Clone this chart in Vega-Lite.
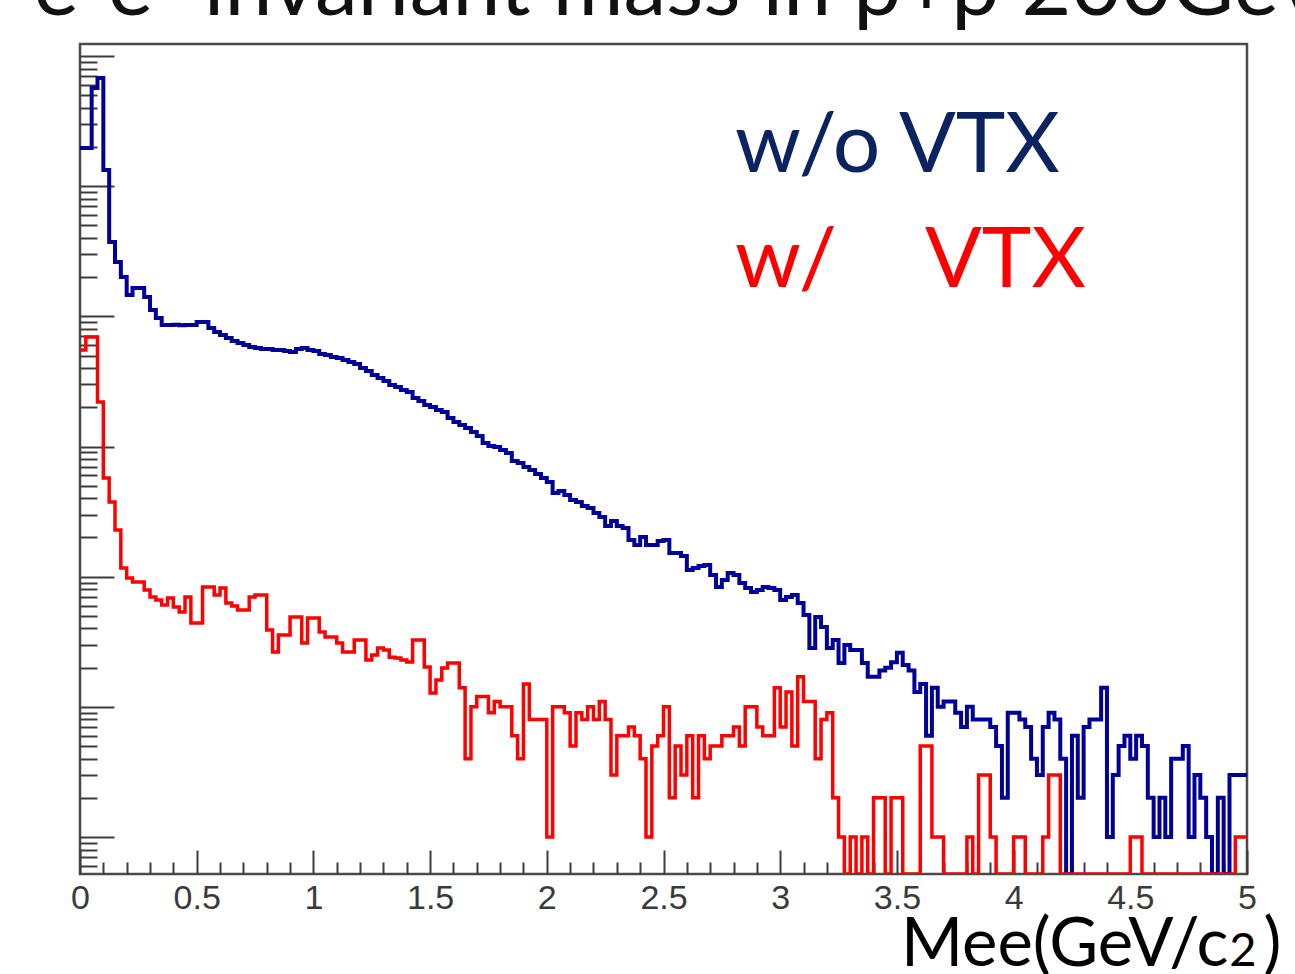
{
  "$schema": "https://vega.github.io/schema/vega-lite/v6.json",
  "width": 1167,
  "height": 830,
  "autosize": {"type": "none"},
  "padding": {"left": 80, "top": 44, "right": 48, "bottom": 100},
  "background": "#ffffff",
  "title": {"text": "e⁺e⁻ invariant mass in p+p 200GeV", "anchor": "start", "font": "Lato", "fontSize": 86, "fontWeight": "normal", "color": "#111111", "baseline": "alphabetic", "offset": -57, "dx": -37},
  "config": {"view": {"stroke": "#4a4a4a", "strokeWidth": 2.5}, "axis": {"grid": false, "domain": false, "tickColor": "#3c3c3c", "tickWidth": 2}},
  "datasets": {
    "blue": [
      {"m":0,"n":196400},{"m":0.025,"n":196400},{"m":0.05,"n":567500},{"m":0.075,"n":677400},{"m":0.1,"n":133100},{"m":0.125,"n":37240},{"m":0.15,"n":26150},{"m":0.175,"n":20050},{"m":0.2,"n":14580},{"m":0.225,"n":16510},
      {"m":0.25,"n":16510},{"m":0.275,"n":14080},{"m":0.3,"n":11180},{"m":0.325,"n":9708},{"m":0.35,"n":8577},{"m":0.375,"n":8577},{"m":0.4,"n":8600},{"m":0.425,"n":8550},{"m":0.45,"n":8580},{"m":0.475,"n":8560},
      {"m":0.5,"n":9045},{"m":0.525,"n":9045},{"m":0.55,"n":8135},{"m":0.575,"n":7578},{"m":0.6,"n":7185},{"m":0.625,"n":6815},{"m":0.65,"n":6463},{"m":0.675,"n":6239},{"m":0.7,"n":6022},{"m":0.725,"n":5812},
      {"m":0.75,"n":5710},{"m":0.775,"n":5611},{"m":0.8,"n":5611},{"m":0.825,"n":5512},{"m":0.85,"n":5512},{"m":0.875,"n":5415},{"m":0.9,"n":5320},{"m":0.925,"n":5611},{"m":0.95,"n":5710},{"m":0.975,"n":5512},
      {"m":1.0,"n":5415},{"m":1.025,"n":5135},{"m":1.05,"n":5045},{"m":1.075,"n":4870},{"m":1.1,"n":4784},{"m":1.125,"n":4618},{"m":1.15,"n":4457},{"m":1.175,"n":4302},{"m":1.2,"n":4009},{"m":1.225,"n":3802},
      {"m":1.25,"n":3542},{"m":1.275,"n":3359},{"m":1.3,"n":3186},{"m":1.325,"n":2968},{"m":1.35,"n":2864},{"m":1.375,"n":2716},{"m":1.4,"n":2622},{"m":1.425,"n":2358},{"m":1.45,"n":2236},{"m":1.475,"n":2084},
      {"m":1.5,"n":2011},{"m":1.525,"n":1907},{"m":1.55,"n":1841},{"m":1.575,"n":1656},{"m":1.6,"n":1543},{"m":1.625,"n":1463},{"m":1.65,"n":1387},{"m":1.675,"n":1292},{"m":1.7,"n":1204},{"m":1.725,"n":1064},
      {"m":1.75,"n":1009},{"m":1.775,"n":991},{"m":1.8,"n":940},{"m":1.825,"n":891},{"m":1.85,"n":773.5},{"m":1.875,"n":746.7},{"m":1.9,"n":695.9},{"m":1.925,"n":659.8},{"m":1.95,"n":614.8},{"m":1.975,"n":572.7},
      {"m":2.0,"n":533.6},{"m":2.025,"n":439.3},{"m":2.05,"n":455.1},{"m":2.075,"n":424},{"m":2.1,"n":388},{"m":2.125,"n":374.6},{"m":2.15,"n":349},{"m":2.175,"n":337},{"m":2.2,"n":308.4},{"m":2.225,"n":287.3},
      {"m":2.25,"n":245.1},{"m":2.275,"n":267.7},{"m":2.3,"n":245.1},{"m":2.325,"n":236.5},{"m":2.35,"n":191.2},{"m":2.375,"n":175.1},{"m":2.4,"n":201.7},{"m":2.425,"n":175.1},{"m":2.45,"n":175.1},{"m":2.475,"n":187.9},
      {"m":2.5,"n":191.2},{"m":2.525,"n":152},{"m":2.55,"n":152},{"m":2.575,"n":144.1},{"m":2.6,"n":112.5},{"m":2.625,"n":116.5},{"m":2.65,"n":120.8},{"m":2.675,"n":122.9},{"m":2.7,"n":103},{"m":2.725,"n":83.3},
      {"m":2.75,"n":94.3},{"m":2.775,"n":106.7},{"m":2.8,"n":103},{"m":2.825,"n":89.4},{"m":2.85,"n":81.8},{"m":2.875,"n":76.2},{"m":2.9,"n":79},{"m":2.925,"n":83.3},{"m":2.95,"n":81.8},{"m":2.975,"n":79},
      {"m":3.0,"n":66.2},{"m":3.025,"n":69.8},{"m":3.05,"n":72.3},{"m":3.075,"n":62.8},{"m":3.1,"n":50.8},{"m":3.125,"n":28.3},{"m":3.15,"n":49},{"m":3.175,"n":41.1},{"m":3.2,"n":28.3},{"m":3.225,"n":32.6},
      {"m":3.25,"n":21.7},{"m":3.275,"n":29.9},{"m":3.3,"n":27.3},{"m":3.325,"n":27.3},{"m":3.35,"n":21.7},{"m":3.375,"n":17},{"m":3.4,"n":17},{"m":3.425,"n":19},{"m":3.45,"n":20},{"m":3.475,"n":22},
      {"m":3.5,"n":26},{"m":3.525,"n":21},{"m":3.55,"n":19},{"m":3.575,"n":13},{"m":3.6,"n":15},{"m":3.625,"n":6},{"m":3.65,"n":14},{"m":3.675,"n":10},{"m":3.7,"n":11},{"m":3.725,"n":11},
      {"m":3.75,"n":9},{"m":3.775,"n":7},{"m":3.8,"n":10},{"m":3.825,"n":8},{"m":3.85,"n":8},{"m":3.875,"n":8},{"m":3.9,"n":7},{"m":3.925,"n":5},{"m":3.95,"n":2},{"m":3.975,"n":9},
      {"m":4.0,"n":9},{"m":4.025,"n":8},{"m":4.05,"n":7},{"m":4.075,"n":4},{"m":4.1,"n":3},{"m":4.125,"n":7},{"m":4.15,"n":9},{"m":4.175,"n":8},{"m":4.2,"n":4},{"m":4.225,"n":0},
      {"m":4.25,"n":6},{"m":4.275,"n":2},{"m":4.3,"n":7},{"m":4.325,"n":8},{"m":4.35,"n":8},{"m":4.375,"n":14},{"m":4.4,"n":1},{"m":4.425,"n":3},{"m":4.45,"n":5},{"m":4.475,"n":6},
      {"m":4.5,"n":4},{"m":4.525,"n":6},{"m":4.55,"n":5},{"m":4.575,"n":2},{"m":4.6,"n":1},{"m":4.625,"n":2},{"m":4.65,"n":1},{"m":4.675,"n":4},{"m":4.7,"n":4},{"m":4.725,"n":5},
      {"m":4.75,"n":1},{"m":4.775,"n":3},{"m":4.8,"n":2},{"m":4.825,"n":1},{"m":4.85,"n":0},{"m":4.875,"n":2},{"m":4.9,"n":0},{"m":4.925,"n":3},{"m":4.95,"n":3},{"m":4.975,"n":3},
      {"m":5.0,"n":3}
    ],
    "red": [
      {"m":0,"n":5512},{"m":0.025,"n":6938},{"m":0.05,"n":6938},{"m":0.075,"n":2197},{"m":0.1,"n":572.7},{"m":0.125,"n":374.6},{"m":0.15,"n":228.3},{"m":0.175,"n":116.5},{"m":0.2,"n":97.6},{"m":0.225,"n":91},
      {"m":0.25,"n":91},{"m":0.275,"n":79},{"m":0.3,"n":69.8},{"m":0.325,"n":66.2},{"m":0.35,"n":60.6},{"m":0.375,"n":68.6},{"m":0.4,"n":58.5},{"m":0.425,"n":53.5},{"m":0.45,"n":69.8},{"m":0.475,"n":44.1},
      {"m":0.5,"n":44.1},{"m":0.525,"n":83.3},{"m":0.55,"n":83.3},{"m":0.575,"n":72.3},{"m":0.6,"n":81.8},{"m":0.625,"n":62.8},{"m":0.65,"n":59.5},{"m":0.675,"n":55.4},{"m":0.7,"n":55.4},{"m":0.725,"n":69.8},
      {"m":0.75,"n":72.3},{"m":0.775,"n":72.3},{"m":0.8,"n":38.9},{"m":0.825,"n":26.4},{"m":0.85,"n":35.6},{"m":0.875,"n":35.6},{"m":0.9,"n":49},{"m":0.925,"n":49},{"m":0.95,"n":30.9},{"m":0.975,"n":48.1},
      {"m":1.0,"n":48.1},{"m":1.025,"n":37.6},{"m":1.05,"n":34.4},{"m":1.075,"n":34.4},{"m":1.1,"n":30.9},{"m":1.125,"n":26.4},{"m":1.15,"n":26.4},{"m":1.175,"n":32.6},{"m":1.2,"n":32.6},{"m":1.225,"n":22.9},
      {"m":1.25,"n":25},{"m":1.275,"n":28.3},{"m":1.3,"n":27.3},{"m":1.325,"n":24.1},{"m":1.35,"n":23.7},{"m":1.375,"n":22.9},{"m":1.4,"n":22.1},{"m":1.425,"n":32.6},{"m":1.45,"n":32.6},{"m":1.475,"n":20.2},
      {"m":1.5,"n":12.8},{"m":1.525,"n":16.1},{"m":1.55,"n":19.9},{"m":1.575,"n":21.7},{"m":1.6,"n":21.7},{"m":1.625,"n":14},{"m":1.65,"n":4},{"m":1.675,"n":10},{"m":1.7,"n":12},{"m":1.725,"n":12},
      {"m":1.75,"n":9},{"m":1.775,"n":11},{"m":1.8,"n":10},{"m":1.825,"n":10},{"m":1.85,"n":6},{"m":1.875,"n":4},{"m":1.9,"n":15},{"m":1.925,"n":8},{"m":1.95,"n":8},{"m":1.975,"n":8},
      {"m":2.0,"n":1},{"m":2.025,"n":10},{"m":2.05,"n":10},{"m":2.075,"n":9},{"m":2.1,"n":5},{"m":2.125,"n":9},{"m":2.15,"n":8},{"m":2.175,"n":10},{"m":2.2,"n":8},{"m":2.225,"n":11},
      {"m":2.25,"n":8},{"m":2.275,"n":3},{"m":2.3,"n":6},{"m":2.325,"n":6},{"m":2.35,"n":7},{"m":2.375,"n":6},{"m":2.4,"n":4},{"m":2.425,"n":1},{"m":2.45,"n":5},{"m":2.475,"n":6},
      {"m":2.5,"n":10},{"m":2.525,"n":2},{"m":2.55,"n":5},{"m":2.575,"n":3},{"m":2.6,"n":6},{"m":2.625,"n":2},{"m":2.65,"n":6},{"m":2.675,"n":4},{"m":2.7,"n":5},{"m":2.725,"n":5},
      {"m":2.75,"n":6},{"m":2.775,"n":6},{"m":2.8,"n":7},{"m":2.825,"n":5},{"m":2.85,"n":10},{"m":2.875,"n":10},{"m":2.9,"n":7},{"m":2.925,"n":6},{"m":2.95,"n":6},{"m":2.975,"n":14},
      {"m":3.0,"n":7},{"m":3.025,"n":13},{"m":3.05,"n":5},{"m":3.075,"n":17},{"m":3.1,"n":11},{"m":3.125,"n":11},{"m":3.15,"n":4},{"m":3.175,"n":8},{"m":3.2,"n":9},{"m":3.225,"n":2},
      {"m":3.25,"n":1},{"m":3.275,"n":0},{"m":3.3,"n":1},{"m":3.325,"n":0},{"m":3.35,"n":1},{"m":3.375,"n":0},{"m":3.4,"n":2},{"m":3.425,"n":2},{"m":3.45,"n":0},{"m":3.475,"n":2},
      {"m":3.5,"n":2},{"m":3.525,"n":0},{"m":3.55,"n":0},{"m":3.575,"n":0},{"m":3.6,"n":5},{"m":3.625,"n":5},{"m":3.65,"n":1},{"m":3.675,"n":1},{"m":3.7,"n":0},{"m":3.725,"n":0},
      {"m":3.75,"n":0},{"m":3.775,"n":0},{"m":3.8,"n":1},{"m":3.825,"n":0},{"m":3.85,"n":3},{"m":3.875,"n":3},{"m":3.9,"n":1},{"m":3.925,"n":0},{"m":3.95,"n":0},{"m":3.975,"n":0},
      {"m":4.0,"n":1},{"m":4.025,"n":1},{"m":4.05,"n":0},{"m":4.075,"n":0},{"m":4.1,"n":0},{"m":4.125,"n":1},{"m":4.15,"n":3},{"m":4.175,"n":3},{"m":4.2,"n":0},{"m":4.225,"n":0},
      {"m":4.25,"n":0},{"m":4.275,"n":0},{"m":4.3,"n":0},{"m":4.325,"n":0},{"m":4.35,"n":0},{"m":4.375,"n":0},{"m":4.4,"n":0},{"m":4.425,"n":0},{"m":4.45,"n":0},{"m":4.475,"n":0},
      {"m":4.5,"n":1},{"m":4.525,"n":1},{"m":4.55,"n":0},{"m":4.575,"n":0},{"m":4.6,"n":0},{"m":4.625,"n":0},{"m":4.65,"n":0},{"m":4.675,"n":0},{"m":4.7,"n":0},{"m":4.725,"n":0},
      {"m":4.75,"n":0},{"m":4.775,"n":0},{"m":4.8,"n":0},{"m":4.825,"n":0},{"m":4.85,"n":0},{"m":4.875,"n":0},{"m":4.9,"n":0},{"m":4.925,"n":0},{"m":4.95,"n":1},{"m":4.975,"n":1},
      {"m":5.0,"n":1}
    ],
    "labels": [
      {"m": 2.806, "n": 128500, "t": "w/o VTX", "g": "without"},
      {"m": 2.806, "n": 16800, "t": "w/", "g": "with"},
      {"m": 3.62, "n": 16800, "t": "VTX", "g": "with"}
    ]
  },
  "resolve": {"axis": {"x": "independent", "y": "independent"}},
  "layer": [
    {
      "data": {"name": "blue"},
      "mark": {"type": "line", "interpolate": "step-after", "color": "#000099", "strokeWidth": 4, "invalid": "show", "clip": true},
      "encoding": {
        "x": {"field": "m", "type": "quantitative", "scale": {"domain": [0, 5], "nice": false, "zero": false},
              "axis": {"orient": "bottom", "values": [0,0.5,1,1.5,2,2.5,3,3.5,4,4.5,5], "format": "~g", "tickSize": -24, "labelFont": "Liberation Sans", "labelFontSize": 34, "labelColor": "#3a3a3a", "labelPadding": 31, "labelFlush": false, "labelOverlap": false,
                       "title": "Mee(GeV/c", "titleFont": "Lato", "titleFontSize": 67, "titleFontWeight": "normal", "titleColor": "#000000", "titleX": 1148, "titleY": 91, "titleAlign": "right", "titleBaseline": "alphabetic", "titleAnchor": null}},
        "y": {"field": "n", "type": "quantitative", "scale": {"type": "log", "domain": [0.52, 1236000], "nice": false, "clamp": true},
              "axis": {"orient": "left", "values": [1,10,100,1000,10000,100000,1000000], "tickSize": -34, "labels": false, "title": null}}
      }
    },
    {
      "data": {"name": "red"},
      "mark": {"type": "line", "interpolate": "step-after", "color": "#ff0000", "strokeWidth": 3.5, "invalid": "show", "clip": true},
      "encoding": {
        "x": {"field": "m", "type": "quantitative",
              "axis": {"orient": "bottom", "values": [0.1,0.2,0.3,0.4,0.6,0.7,0.8,0.9,1.1,1.2,1.3,1.4,1.6,1.7,1.8,1.9,2.1,2.2,2.3,2.4,2.6,2.7,2.8,2.9,3.1,3.2,3.3,3.4,3.6,3.7,3.8,3.9,4.1,4.2,4.3,4.4,4.6,4.7,4.8,4.9], "tickSize": -12, "labels": false,
                       "title": "2", "titleFont": "Lato", "titleFontSize": 47, "titleFontWeight": "normal", "titleColor": "#000000", "titleX": 1176, "titleY": 91, "titleAlign": "right", "titleBaseline": "alphabetic", "titleAnchor": null}},
        "y": {"field": "n", "type": "quantitative",
              "axis": {"orient": "left", "values": [0.6,0.7,0.8,0.9,2,3,4,5,6,7,8,9,20,30,40,50,60,70,80,90,200,300,400,500,600,700,800,900,2000,3000,4000,5000,6000,7000,8000,9000,20000,30000,40000,50000,60000,70000,80000,90000,200000,300000,400000,500000,600000,700000,800000,900000], "tickSize": -17, "labels": false, "title": null}}
      }
    },
    {
      "data": {"name": "labels"},
      "mark": {"type": "text", "align": "left", "baseline": "alphabetic", "font": "Lato", "fontSize": 84},
      "encoding": {
        "x": {"field": "m", "type": "quantitative",
              "axis": {"orient": "bottom", "ticks": false, "labels": false, "title": ")", "titleFont": "Lato", "titleFontSize": 67, "titleFontWeight": "normal", "titleColor": "#000000", "titleX": 1201, "titleY": 91, "titleAlign": "right", "titleBaseline": "alphabetic", "titleAnchor": null}},
        "y": {"field": "n", "type": "quantitative", "axis": null},
        "text": {"field": "t"},
        "color": {"field": "g", "type": "nominal", "scale": {"domain": ["without", "with"], "range": ["#0b2460", "#ff0000"]}, "legend": null}
      }
    }
  ]
}
